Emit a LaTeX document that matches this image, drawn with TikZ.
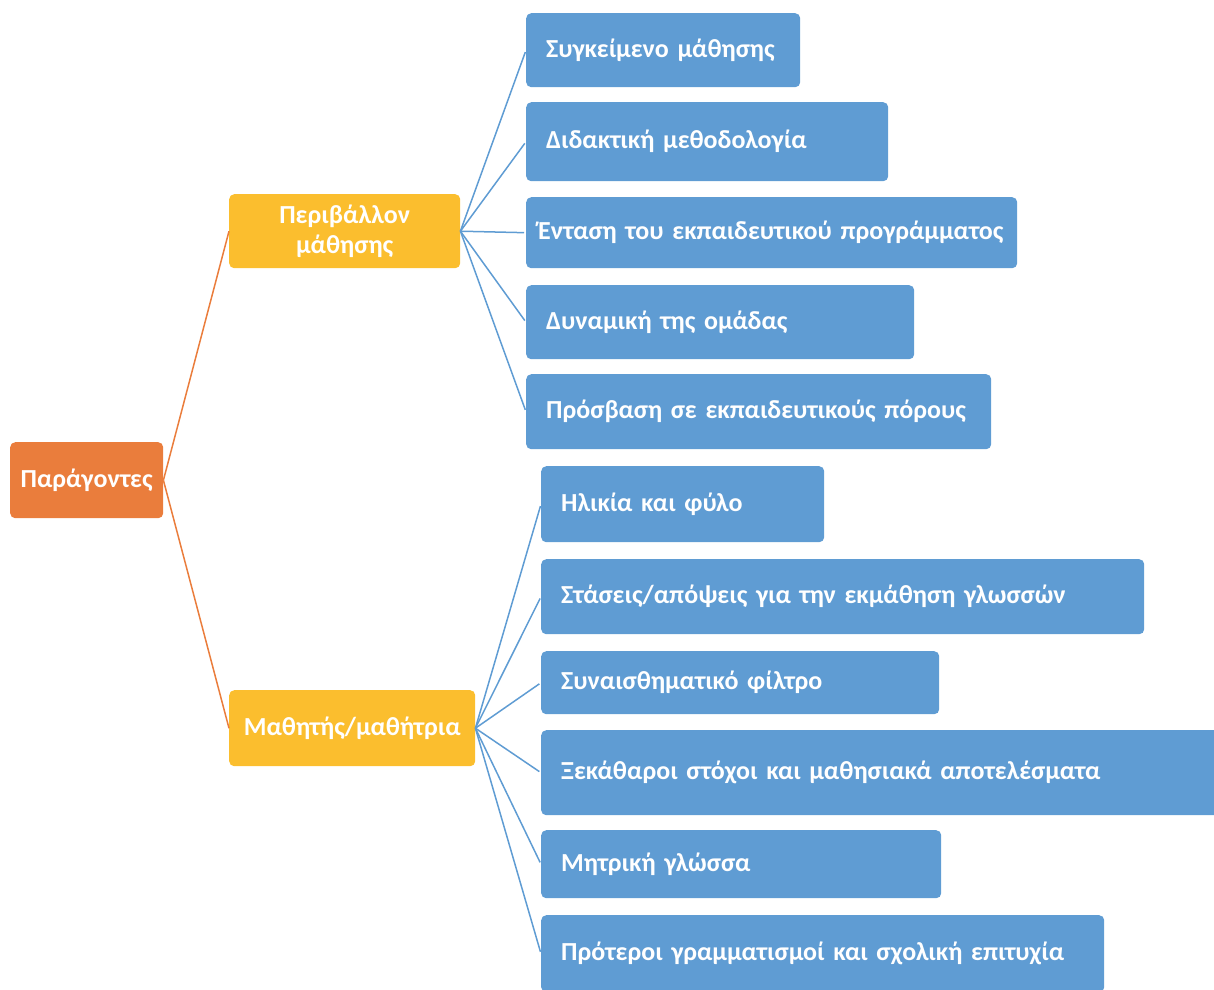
\documentclass[tikz,border=0pt]{standalone}
\usepackage{fontspec}
\setmainfont{Carlito}
\definecolor{rootc}{HTML}{EA7D3C}
\definecolor{midc}{HTML}{FBBE2E}
\definecolor{leafc}{HTML}{5F9CD3}
\definecolor{linec}{HTML}{5F9CD3}
\definecolor{olinec}{HTML}{EA7D3C}
\tikzset{
  boxbase/.style={rectangle, rounded corners=5pt, inner ysep=0pt, text=white, font=\bfseries\fontsize{26}{30}\selectfont, anchor=north west},
  rootbox/.style={boxbase, fill=rootc, inner xsep=0pt, align=center},
  midbox/.style={boxbase, fill=midc, inner xsep=0pt, align=center},
  leafbox/.style={boxbase, fill=leafc, inner xsep=20pt, align=left},
  bluelink/.style={draw=linec, line width=1.5pt},
  orangelink/.style={draw=olinec, line width=1.5pt}
}
\begin{document}
\begin{tikzpicture}[x=1pt,y=-1pt]
\useasboundingbox (0,0) rectangle (1214,989);
\clip (0,0) rectangle (1214,989);
% root
\node[rootbox, minimum width=153pt, minimum height=76pt] (root) at (10,442) {Παράγοντες};
% middle level
\node[midbox, minimum width=231pt, minimum height=74pt] (env) at (229,194) {Περιβάλλον\\μάθησης};
\node[midbox, minimum width=246pt, minimum height=76pt] (learner) at (229,690) {Μαθητής/μαθήτρια};
% leaves, group 1
\node[leafbox, text width=234pt, minimum height=74pt] (b1) at (526,13) {Συγκείμενο μάθησης};
\node[leafbox, text width=322pt, minimum height=79pt] (b2) at (526,102) {Διδακτική μεθοδολογία};
\node[leafbox, inner xsep=12pt, text width=467pt, minimum height=71pt] (b3) at (526,197) {Ένταση του εκπαιδευτικού προγράμματος};
\node[leafbox, text width=348pt, minimum height=74pt] (b4) at (526,285) {Δυναμική της ομάδας};
\node[leafbox, text width=425pt, minimum height=75pt] (b5) at (526,374) {Πρόσβαση σε εκπαιδευτικούς πόρους};
% leaves, group 2
\node[leafbox, text width=243pt, minimum height=76pt] (b6) at (541,466) {Ηλικία και φύλο};
\node[leafbox, text width=563pt, minimum height=75pt] (b7) at (541,559) {Στάσεις/απόψεις για την εκμάθηση γλωσσών};
\node[leafbox, text width=358pt, minimum height=63pt] (b8) at (541,651) {Συναισθηματικό φίλτρο};
\node[leafbox, text width=641pt, minimum height=85pt] (b9) at (541,730) {Ξεκάθαροι στόχοι και μαθησιακά αποτελέσματα};
\node[leafbox, text width=360pt, minimum height=68pt] (b10) at (541,830) {Μητρική γλώσσα};
\node[leafbox, text width=523pt, minimum height=77pt] (b11) at (541,915) {Πρότεροι γραμματισμοί και σχολική επιτυχία};
% connectors
\draw[orangelink] (root.east) -- (env.west);
\draw[orangelink] (root.east) -- (learner.west);
\foreach \b in {b1,b2,b3,b4,b5}{\draw[bluelink, shorten >=2pt] (env.east) -- (\b.west);}
\foreach \b in {b6,b7,b8,b9,b10,b11}{\draw[bluelink, shorten >=2pt] (learner.east) -- (\b.west);}
\end{tikzpicture}
\end{document}
